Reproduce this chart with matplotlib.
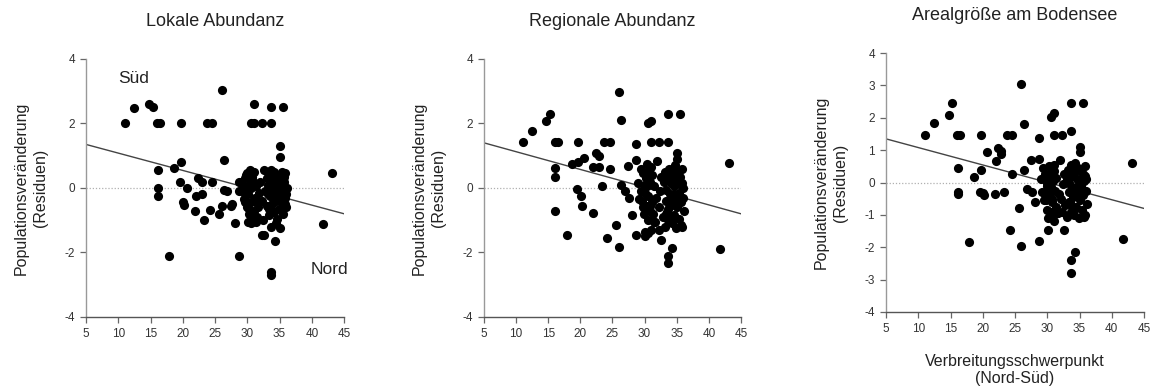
import matplotlib
matplotlib.use("Agg")
import matplotlib.pyplot as plt

plt.rcParams["font.family"] = ["Liberation Sans", "DejaVu Sans"]
plt.rcParams["axes.unicode_minus"] = False

titles = ["Lokale Abundanz", "Regionale Abundanz", "Arealgröße am Bodensee"]

# Verbreitungsschwerpunkt (Nord-Süd), gemeinsam für alle drei Panels
schwerpunkt = [
    11.0, 12.5, 14.7, 15.3, 16.0, 16.5, 16.1, 16.1, 16.1, 17.9,
    19.7, 18.7, 19.7, 19.5, 20.6, 20.1, 20.2, 22.4, 22.9, 22.0,
    22.9, 24.6, 21.9, 23.3, 24.2, 25.6, 26.0, 23.7, 24.6, 26.0,
    26.4, 26.4, 26.9, 27.6, 27.4, 28.1, 28.7, 28.7, 28.7, 31.0,
    30.6, 31.0, 32.3, 33.7, 33.7, 35.5, 35.1, 35.1, 43.2, 41.8,
    33.6, 33.7, 34.3, 32.6, 32.3, 30.1, 30.5,
    29.0, 29.2, 29.4, 29.5, 29.7, 29.9, 30.0, 30.1, 30.2, 30.3,
    30.4, 30.5, 30.6, 30.7, 30.8, 30.9, 31.0, 31.1, 31.2, 31.3,
    31.4, 31.6, 31.8, 32.0, 32.2, 32.4, 32.6, 32.8, 33.0, 33.1,
    33.2, 33.3, 33.4, 33.5, 33.6, 33.7, 33.8, 33.9, 34.0, 34.1,
    34.2, 34.3, 34.4, 34.5, 34.6, 34.7, 34.8, 34.9, 35.0, 35.1,
    35.2, 35.3, 35.4, 35.5, 35.6, 35.7, 35.8, 35.9, 36.0, 36.1,
    29.6, 30.3, 30.8, 31.5, 33.2, 33.6, 34.0, 34.4, 34.9, 35.3,
    35.7, 36.0, 30.0, 31.0, 33.4, 34.2, 35.0, 35.8, 29.8, 34.6,
]

# Populationsveränderung (Residuen)
res_lokal = [
    2.02, 2.47, 2.60, 2.50, 2.02, 2.02, 0.56, 0.00, -0.24, -2.12,
    2.02, 0.61, 0.82, 0.18, 0.01, -0.45, -0.52, 0.30, 0.20, -0.24,
    -0.19, 0.18, -0.71, -1.00, -0.67, -0.80, -0.55, 2.02, 2.02, 3.05,
    0.88, -0.06, -0.10, -0.50, -0.55, -1.10, -2.11, 0.20, -0.10, 2.60,
    2.02, 2.02, 2.02, 2.02, 2.50, 2.50, 1.30, 0.97, 0.47, -1.13,
    -2.60, -2.70, -1.63, -1.46, -1.46, -1.05, -1.10,
    0.20, -0.10, 0.05, -0.35, 0.30, -0.60, 0.45, -0.20, 0.10, -0.80,
    0.55, -0.45, 0.00, 0.35, -0.95, 0.15, -0.70, 0.50, -0.30, -1.05,
    0.05, -0.60, -0.15, 0.20, -0.40, -1.00, 0.55, -0.10, 0.30, -0.55,
    0.10, -0.85, 0.45, -0.25, 0.00, -1.20, 0.35, -0.50, 0.15, -0.75,
    0.50, -0.05, -0.40, 0.25, -0.95, 0.40, -0.20, -0.65, 0.05, -1.25,
    0.30, -0.45, 0.50, -0.10, -0.80, 0.20, -0.30, 0.45, -0.60, 0.00,
    -0.45, -0.65, 0.25, -0.90, -0.20, 0.55, -0.30, -1.10, 0.10, -0.70,
    0.35, -0.20, -0.05, -0.40, -0.65, 0.20, -0.35, -0.50, 0.40, 0.30,
]

res_regional = [
    1.42, 1.76, 2.09, 2.30, 1.42, 1.42, 0.61, 0.33, -0.70, -1.45,
    1.42, 0.74, 0.80, -0.03, 0.93, -0.24, -0.55, 1.10, 1.00, 0.66,
    0.66, 0.59, -0.78, 0.07, -1.55, -1.14, -1.84, 1.42, 1.42, 2.97,
    2.10, 0.10, -0.10, -0.30, 0.69, -0.85, -1.45, 1.35, 0.87, 2.08,
    2.00, 1.42, 1.42, 1.42, 2.30, 2.30, 1.10, 0.90, 0.77, -1.90,
    -2.10, -2.32, -1.87, -1.61, -1.30, -1.50, -1.40,
    0.15, -0.35, 0.60, -0.10, 0.45, -0.80, 0.10, -1.35, 0.30, -0.55,
    0.75, -0.25, -1.00, 0.55, -0.70, 0.20, -1.30, 0.40, -0.45, -0.80,
    0.05, -1.05, -0.30, 0.85, -0.60, -0.10, 0.35, -0.90, 0.20, -1.20,
    0.50, -0.40, -0.05, -0.75, 0.30, -1.00, 0.60, -0.20, -0.55, 0.15,
    -1.10, 0.45, -0.35, -0.85, 0.05, 0.70, -0.25, -1.25, 0.25, -0.60,
    0.50, -0.15, -0.95, 0.35, -0.45, 0.10, -1.20, 0.60, -0.30, -0.70,
    -0.40, 0.05, -0.55, -1.05, 0.40, -0.65, 0.55, -0.90, 0.20, -0.35,
    -1.15, 0.00, -0.15, 0.65, -0.80, 0.30, -0.50, 0.15, -0.60, -0.20,
]

res_areal = [
    1.48, 1.85, 2.08, 2.46, 1.48, 1.48, 0.44, -0.30, -0.36, -1.83,
    1.48, 0.18, 0.39, -0.30, 0.94, -0.32, -0.38, 1.07, 0.97, 0.66,
    0.87, 0.27, -0.35, -0.30, -1.47, -0.78, -1.96, 1.48, 1.48, 3.03,
    1.82, 0.38, -0.20, -0.30, 0.71, -0.60, -1.82, 1.37, 0.72, 2.14,
    2.04, 1.48, 1.48, 1.58, 2.47, 2.47, 1.10, 0.93, 0.60, -1.73,
    -2.38, -2.79, -2.16, -1.48, -0.90, -1.46, -1.00,
    0.10, -0.30, 0.45, -0.55, 0.25, -0.85, 0.00, -1.10, 0.50, -0.40,
    0.30, -0.15, -0.90, 0.20, -0.60, 0.05, -1.20, 0.35, -0.25, -0.75,
    0.15, -0.95, -0.35, 0.70, -0.50, -0.05, 0.25, -0.70, 0.10, -1.05,
    0.40, -0.30, 0.00, -0.60, 0.55, -0.90, 0.20, -0.15, -0.45, 0.30,
    -1.00, 0.60, -0.20, -0.75, 0.10, 0.45, -0.35, -1.10, 0.00, -0.55,
    0.35, -0.10, -0.85, 0.25, -0.40, 0.05, -1.00, 0.50, -0.25, -0.65,
    -0.35, 0.15, -0.50, -0.95, 0.30, -0.70, 0.40, -0.80, -0.05, -0.25,
    -1.05, 0.10, -0.10, 0.55, -0.60, -0.20, -0.40, 0.20, -0.55, -0.30,
]

# Regressionsgeraden (Endpunkte bei x = 5 und x = 45)
fit_x = [5, 45]
fit_lokal = [1.35, -0.80]
fit_regional = [1.40, -0.80]
fit_areal = [1.35, -0.80]

yticks_12 = [-4, -2, 0, 2, 4]
yticks_3 = [-4, -3, -2, -1, 0, 1, 2, 3, 4]
xticks = [5, 10, 15, 20, 25, 30, 35, 40, 45]

fig = plt.figure(figsize=(11.52, 3.87), dpi=100)
positions = [
    [0.0747, 0.1809, 0.2240, 0.6667],
    [0.4201, 0.1809, 0.2231, 0.6667],
    [0.7691, 0.1938, 0.2240, 0.6690],
]
residuals = [res_lokal, res_regional, res_areal]
fits = [fit_lokal, fit_regional, fit_areal]
yticks_all = [yticks_12, yticks_12, yticks_3]

axes = []
for i in range(3):
    ax = fig.add_axes(positions[i])
    ax.plot(fit_x, [0, 0], linestyle=(0, (1, 1.5)), color="#b0b0b0", lw=0.9, zorder=1)
    ax.plot(fit_x, fits[i], color="#444444", lw=1.0, zorder=2)
    ax.plot(schwerpunkt, residuals[i], "o", color="black", markersize=6.6,
            markeredgewidth=0, zorder=3, clip_on=False)
    ax.set_xlim(5, 45)
    ax.set_ylim(-4, 4)
    ax.set_xticks(xticks)
    ax.set_yticks(yticks_all[i])
    for s in ["top", "right"]:
        ax.spines[s].set_visible(False)
    ax.spines["left"].set_color("#999999")
    ax.spines["bottom"].set_color("#555555")
    ax.spines["left"].set_linewidth(1.0)
    ax.spines["bottom"].set_linewidth(1.0)
    ax.tick_params(direction="out", length=4, width=0.9, color="#666666",
                   labelsize=8.5, labelcolor="#333333", pad=4)
    ax.text(0.5, 1 + 37 / 258, titles[i], transform=ax.transAxes,
            ha="center", va="center", fontsize=13, color="#222222")
    ax.text(-0.215, 0.5, "Populationsveränderung\n(Residuen)", transform=ax.transAxes,
            rotation=90, ha="center", va="center", multialignment="center",
            fontsize=11.5, color="#222222", linespacing=1.35)
    axes.append(ax)

axes[0].text(12.3, 3.38, "Süd", ha="center", va="center", fontsize=12.5, color="#222222")
axes[0].text(42.7, -2.54, "Nord", ha="center", va="center", fontsize=12.5, color="#222222")

axes[2].text(0.5, -58 / 259, "Verbreitungsschwerpunkt\n(Nord-Süd)", transform=axes[2].transAxes,
             ha="center", va="center", multialignment="center", fontsize=11.5,
             color="#222222", linespacing=1.1)

fig.savefig("out.png", dpi=100)
plt.close(fig)
